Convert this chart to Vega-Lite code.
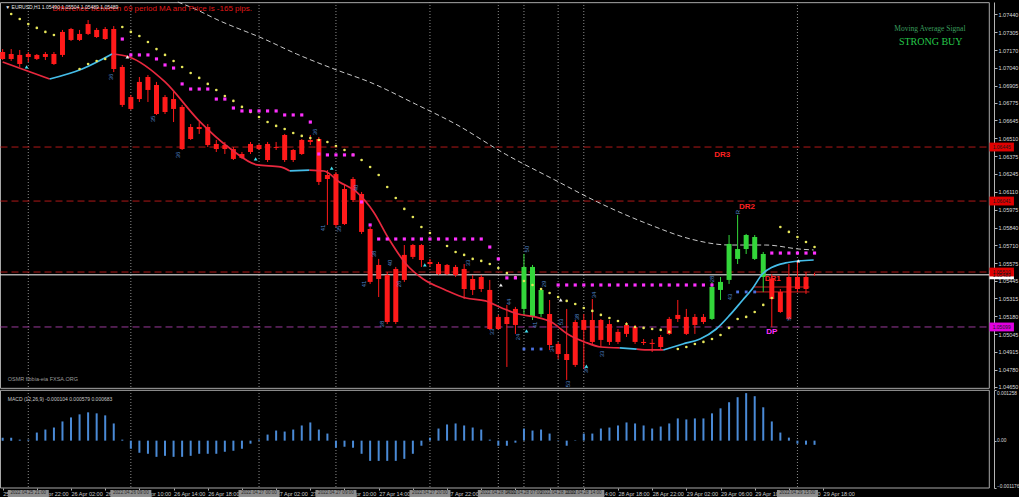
{
  "$schema": "https://vega.github.io/schema/vega-lite/v6.json",
  "background": "#000000",
  "padding": {"left": -5, "top": 0, "right": 0, "bottom": 0},
  "spacing": 1,
  "bounds": "flush",
  "config": {"view": {"stroke": null}, "font": "Liberation Sans"},
  "datasets": {
    "candles": [
      {"k":0,"o":1.07156,"h":1.07178,"l":1.07096,"c":1.07104,"trend":"bear"},
      {"k":1,"o":1.07104,"h":1.07178,"l":1.07089,"c":1.07141,"trend":"bear"},
      {"k":2,"o":1.07134,"h":1.07171,"l":1.07044,"c":1.07066,"trend":"bear"},
      {"k":3,"o":1.07119,"h":1.07156,"l":1.07081,"c":1.07141,"trend":"bear"},
      {"k":4,"o":1.07134,"h":1.07141,"l":1.07096,"c":1.07104,"trend":"bear"},
      {"k":5,"o":1.07119,"h":1.07156,"l":1.07096,"c":1.07141,"trend":"bear"},
      {"k":6,"o":1.07141,"h":1.07156,"l":1.07059,"c":1.07066,"trend":"bear"},
      {"k":7,"o":1.07134,"h":1.07321,"l":1.07119,"c":1.07306,"trend":"bear"},
      {"k":8,"o":1.07328,"h":1.07336,"l":1.07238,"c":1.07246,"trend":"bear"},
      {"k":9,"o":1.07246,"h":1.07321,"l":1.07238,"c":1.07291,"trend":"bear"},
      {"k":10,"o":1.07291,"h":1.07395,"l":1.07283,"c":1.07365,"trend":"bear"},
      {"k":11,"o":1.07321,"h":1.07336,"l":1.07261,"c":1.07268,"trend":"bear"},
      {"k":12,"o":1.07253,"h":1.07343,"l":1.07246,"c":1.07328,"trend":"bear"},
      {"k":13,"o":1.07328,"h":1.0735,"l":1.07006,"c":1.07029,"trend":"bear"},
      {"k":14,"o":1.07044,"h":1.07059,"l":1.06745,"c":1.0676,"trend":"bear"},
      {"k":15,"o":1.0673,"h":1.06834,"l":1.06722,"c":1.06819,"trend":"bear"},
      {"k":16,"o":1.06804,"h":1.06969,"l":1.06782,"c":1.06932,"trend":"bear"},
      {"k":17,"o":1.06969,"h":1.06984,"l":1.06782,"c":1.06872,"trend":"bear"},
      {"k":18,"o":1.06909,"h":1.06932,"l":1.06685,"c":1.06692,"trend":"bear"},
      {"k":19,"o":1.06707,"h":1.06834,"l":1.06692,"c":1.06819,"trend":"bear"},
      {"k":20,"o":1.06804,"h":1.06857,"l":1.06632,"c":1.0673,"trend":"bear"},
      {"k":21,"o":1.06745,"h":1.0676,"l":1.06423,"c":1.0643,"trend":"bear"},
      {"k":22,"o":1.06505,"h":1.06617,"l":1.06498,"c":1.06595,"trend":"bear"},
      {"k":23,"o":1.06595,"h":1.06632,"l":1.06543,"c":1.0658,"trend":"bear"},
      {"k":24,"o":1.06595,"h":1.06617,"l":1.06445,"c":1.0646,"trend":"bear"},
      {"k":25,"o":1.06468,"h":1.06498,"l":1.06408,"c":1.0643,"trend":"bear"},
      {"k":26,"o":1.0643,"h":1.06483,"l":1.06393,"c":1.0646,"trend":"bear"},
      {"k":27,"o":1.0643,"h":1.06445,"l":1.06348,"c":1.06356,"trend":"bear"},
      {"k":28,"o":1.06363,"h":1.06408,"l":1.06356,"c":1.06393,"trend":"bear"},
      {"k":29,"o":1.06408,"h":1.06483,"l":1.06393,"c":1.06468,"trend":"bear"},
      {"k":30,"o":1.0646,"h":1.06468,"l":1.06423,"c":1.0643,"trend":"bear"},
      {"k":31,"o":1.06468,"h":1.06483,"l":1.06333,"c":1.06348,"trend":"bear"},
      {"k":32,"o":1.06438,"h":1.06483,"l":1.06423,"c":1.06445,"trend":"bear"},
      {"k":33,"o":1.06348,"h":1.06543,"l":1.06333,"c":1.06535,"trend":"bear"},
      {"k":34,"o":1.06423,"h":1.0643,"l":1.06333,"c":1.06348,"trend":"bear"},
      {"k":35,"o":1.06393,"h":1.06505,"l":1.06386,"c":1.06498,"trend":"bear"},
      {"k":36,"o":1.06498,"h":1.06535,"l":1.0646,"c":1.06483,"trend":"bear"},
      {"k":37,"o":1.06505,"h":1.0652,"l":1.06161,"c":1.06184,"trend":"bear"},
      {"k":38,"o":1.06206,"h":1.06273,"l":1.05862,"c":1.06236,"trend":"bear"},
      {"k":39,"o":1.06243,"h":1.06258,"l":1.05847,"c":1.05862,"trend":"bear"},
      {"k":40,"o":1.05869,"h":1.06161,"l":1.05862,"c":1.06131,"trend":"bear"},
      {"k":41,"o":1.06206,"h":1.06221,"l":1.06034,"c":1.06049,"trend":"bear"},
      {"k":42,"o":1.06094,"h":1.06109,"l":1.05795,"c":1.0581,"trend":"bear"},
      {"k":43,"o":1.05832,"h":1.05847,"l":1.05421,"c":1.05436,"trend":"bear"},
      {"k":44,"o":1.05458,"h":1.05608,"l":1.05323,"c":1.05563,"trend":"bear"},
      {"k":45,"o":1.05488,"h":1.0551,"l":1.05121,"c":1.05136,"trend":"bear"},
      {"k":46,"o":1.05136,"h":1.05548,"l":1.05121,"c":1.05533,"trend":"bear"},
      {"k":47,"o":1.05451,"h":1.05712,"l":1.05436,"c":1.05638,"trend":"bear"},
      {"k":48,"o":1.05623,"h":1.0572,"l":1.05608,"c":1.05712,"trend":"bear"},
      {"k":49,"o":1.05712,"h":1.0572,"l":1.05548,"c":1.056,"trend":"bear"},
      {"k":50,"o":1.05585,"h":1.05608,"l":1.05548,"c":1.0557,"trend":"bear"},
      {"k":51,"o":1.0557,"h":1.05585,"l":1.05488,"c":1.05495,"trend":"bear"},
      {"k":52,"o":1.05495,"h":1.0557,"l":1.05488,"c":1.05563,"trend":"bear"},
      {"k":53,"o":1.05548,"h":1.05563,"l":1.05473,"c":1.05488,"trend":"bear"},
      {"k":54,"o":1.05533,"h":1.0557,"l":1.05308,"c":1.05383,"trend":"bear"},
      {"k":55,"o":1.05376,"h":1.05488,"l":1.05338,"c":1.05458,"trend":"bear"},
      {"k":56,"o":1.05473,"h":1.05488,"l":1.05361,"c":1.05383,"trend":"bear"},
      {"k":57,"o":1.05376,"h":1.05451,"l":1.05077,"c":1.05084,"trend":"bear"},
      {"k":58,"o":1.05084,"h":1.05189,"l":1.05077,"c":1.05174,"trend":"bear"},
      {"k":59,"o":1.05174,"h":1.05264,"l":1.048,"c":1.05121,"trend":"bear"},
      {"k":60,"o":1.05114,"h":1.05249,"l":1.05047,"c":1.05234,"trend":"bear"},
      {"k":61,"o":1.05234,"h":1.05645,"l":1.05189,"c":1.05548,"trend":"bull"},
      {"k":62,"o":1.05548,"h":1.05563,"l":1.05151,"c":1.05174,"trend":"bull"},
      {"k":63,"o":1.05196,"h":1.05383,"l":1.05174,"c":1.05376,"trend":"bull"},
      {"k":64,"o":1.05196,"h":1.05301,"l":1.04927,"c":1.04964,"trend":"bear"},
      {"k":65,"o":1.04972,"h":1.04987,"l":1.0486,"c":1.04897,"trend":"bear"},
      {"k":66,"o":1.04897,"h":1.05234,"l":1.04703,"c":1.04852,"trend":"bear"},
      {"k":67,"o":1.04815,"h":1.05151,"l":1.048,"c":1.05136,"trend":"bear"},
      {"k":68,"o":1.05151,"h":1.05196,"l":1.04785,"c":1.05077,"trend":"bear"},
      {"k":69,"o":1.05151,"h":1.05308,"l":1.04972,"c":1.04987,"trend":"bear"},
      {"k":70,"o":1.05002,"h":1.05159,"l":1.04949,"c":1.05151,"trend":"bear"},
      {"k":71,"o":1.05121,"h":1.05151,"l":1.04964,"c":1.04987,"trend":"bear"},
      {"k":72,"o":1.04987,"h":1.05084,"l":1.04972,"c":1.05062,"trend":"bear"},
      {"k":73,"o":1.05047,"h":1.05136,"l":1.05024,"c":1.05114,"trend":"bear"},
      {"k":74,"o":1.05099,"h":1.05114,"l":1.04972,"c":1.04987,"trend":"bear"},
      {"k":75,"o":1.04987,"h":1.05009,"l":1.04964,"c":1.04979,"trend":"bear"},
      {"k":76,"o":1.0498,"h":1.05009,"l":1.04912,"c":1.04972,"trend":"bear"},
      {"k":77,"o":1.04949,"h":1.05039,"l":1.04934,"c":1.05024,"trend":"bear"},
      {"k":78,"o":1.05047,"h":1.05174,"l":1.05039,"c":1.05159,"trend":"bear"},
      {"k":79,"o":1.05159,"h":1.05301,"l":1.05136,"c":1.05189,"trend":"bear"},
      {"k":80,"o":1.05174,"h":1.05234,"l":1.05039,"c":1.05047,"trend":"bear"},
      {"k":81,"o":1.05114,"h":1.05196,"l":1.05047,"c":1.05174,"trend":"bear"},
      {"k":82,"o":1.05174,"h":1.05196,"l":1.05121,"c":1.05136,"trend":"bear"},
      {"k":83,"o":1.05159,"h":1.05436,"l":1.05151,"c":1.05398,"trend":"bull"},
      {"k":84,"o":1.05376,"h":1.05473,"l":1.05301,"c":1.05436,"trend":"bull"},
      {"k":85,"o":1.05451,"h":1.05787,"l":1.05421,"c":1.0572,"trend":"bull"},
      {"k":86,"o":1.05608,"h":1.05937,"l":1.0557,"c":1.05682,"trend":"bull"},
      {"k":87,"o":1.05682,"h":1.05795,"l":1.05645,"c":1.05787,"trend":"bull"},
      {"k":88,"o":1.05772,"h":1.05787,"l":1.056,"c":1.05608,"trend":"bull"},
      {"k":89,"o":1.05645,"h":1.0566,"l":1.05361,"c":1.05473,"trend":"bull"},
      {"k":90,"o":1.05458,"h":1.05495,"l":1.05099,"c":1.05308,"trend":"bear"},
      {"k":91,"o":1.05211,"h":1.05383,"l":1.05204,"c":1.05361,"trend":"bear"},
      {"k":92,"o":1.05159,"h":1.0557,"l":1.05151,"c":1.05473,"trend":"bear"},
      {"k":93,"o":1.05473,"h":1.056,"l":1.05361,"c":1.05383,"trend":"bear"},
      {"k":94,"o":1.05383,"h":1.0551,"l":1.05346,"c":1.05473,"trend":"bear"},
      {"k":95,"o":1.0549,"h":1.05504,"l":1.05482,"c":1.05489,"trend":"bear"}
    ],
    "macd": [
      {"k":0,"macd":0.000075},{"k":1,"macd":0.000075},{"k":2,"macd":0.000025},{"k":3,"macd":0.000025},
      {"k":4,"macd":0.000201},{"k":5,"macd":0.000276},{"k":6,"macd":0.000326},{"k":7,"macd":0.000477},
      {"k":8,"macd":0.000577},{"k":9,"macd":0.000653},{"k":10,"macd":0.000703},{"k":11,"macd":0.000678},
      {"k":12,"macd":0.000628},{"k":13,"macd":0.000427},{"k":14,"macd":0.000025},{"k":15,"macd":-0.000201},
      {"k":16,"macd":-0.000301},{"k":17,"macd":-0.000326},{"k":18,"macd":-0.000402},{"k":19,"macd":-0.000377},
      {"k":20,"macd":-0.000402},{"k":21,"macd":-0.000402},{"k":22,"macd":-0.000377},{"k":23,"macd":-0.000326},
      {"k":24,"macd":-0.000326},{"k":25,"macd":-0.000326},{"k":26,"macd":-0.000276},{"k":27,"macd":-0.000251},
      {"k":28,"macd":-0.000201},{"k":29,"macd":-0.000075},{"k":30,"macd":0.000025},{"k":31,"macd":0.000151},
      {"k":32,"macd":0.000251},{"k":33,"macd":0.000226},{"k":34,"macd":0.000276},{"k":35,"macd":0.000377},
      {"k":36,"macd":0.000452},{"k":37,"macd":0.000276},{"k":38,"macd":0.000176},{"k":39,"macd":-0.000176},
      {"k":40,"macd":-0.000151},{"k":41,"macd":-0.000176},{"k":42,"macd":-0.000326},{"k":43,"macd":-0.000502},
      {"k":44,"macd":-0.000502},{"k":45,"macd":-0.000502},{"k":46,"macd":-0.000502},{"k":47,"macd":-0.000452},
      {"k":48,"macd":-0.000326},{"k":49,"macd":-0.000126},{"k":50,"macd":0.000075},{"k":51,"macd":0.000301},
      {"k":52,"macd":0.000402},{"k":53,"macd":0.000427},{"k":54,"macd":0.000377},{"k":55,"macd":0.000326},
      {"k":56,"macd":0.000276},{"k":57,"macd":0.000025},{"k":58,"macd":-0.000126},{"k":59,"macd":-0.000126},
      {"k":60,"macd":-0.00005},{"k":61,"macd":0.000301},{"k":62,"macd":0.000251},{"k":63,"macd":0.000276},
      {"k":64,"macd":0.000176},{"k":65,"macd":0.00001},{"k":66,"macd":-0.000126},{"k":67,"macd":0.00001},
      {"k":68,"macd":0.000176},{"k":69,"macd":0.000176},{"k":70,"macd":0.000301},{"k":71,"macd":0.000326},
      {"k":72,"macd":0.000377},{"k":73,"macd":0.000452},{"k":74,"macd":0.000427},{"k":75,"macd":0.000377},
      {"k":76,"macd":0.000301},{"k":77,"macd":0.000351},{"k":78,"macd":0.000427},{"k":79,"macd":0.000552},
      {"k":80,"macd":0.000527},{"k":81,"macd":0.000552},{"k":82,"macd":0.000552},{"k":83,"macd":0.000678},
      {"k":84,"macd":0.000803},{"k":85,"macd":0.000954},{"k":86,"macd":0.001079},{"k":87,"macd":0.00118},
      {"k":88,"macd":0.001104},{"k":89,"macd":0.000828},{"k":90,"macd":0.000477},{"k":91,"macd":0.000201},
      {"k":92,"macd":0.000075},{"k":93,"macd":-0.000075},{"k":94,"macd":-0.0001},{"k":95,"macd":-0.000104}
    ],
    "ma": [
      {"k":0,"ma":1.07081,"seg":1,"dir":"down"},{"k":5.5,"ma":1.06954,"seg":1,"dir":"down"},
      {"k":5.5,"ma":1.06954,"seg":2,"dir":"up"},{"k":9.3,"ma":1.07029,"seg":2,"dir":"up"},{"k":12.8,"ma":1.07141,"seg":2,"dir":"up"},
      {"k":12.8,"ma":1.07141,"seg":3,"dir":"down"},{"k":14.8,"ma":1.07119,"seg":3,"dir":"down"},{"k":19,"ma":1.06932,"seg":3,"dir":"down"},
      {"k":22.9,"ma":1.06647,"seg":3,"dir":"down"},{"k":26.7,"ma":1.0643,"seg":3,"dir":"down"},{"k":29.8,"ma":1.06311,"seg":3,"dir":"down"},
      {"k":32.5,"ma":1.06296,"seg":3,"dir":"down"},{"k":33.6,"ma":1.06266,"seg":3,"dir":"down"},
      {"k":33.6,"ma":1.06266,"seg":4,"dir":"up"},{"k":35.9,"ma":1.06273,"seg":4,"dir":"up"},
      {"k":35.9,"ma":1.06273,"seg":5,"dir":"down"},{"k":37.6,"ma":1.06266,"seg":5,"dir":"down"},{"k":39.4,"ma":1.06184,"seg":5,"dir":"down"},
      {"k":41.4,"ma":1.06109,"seg":5,"dir":"down"},{"k":43.4,"ma":1.05959,"seg":5,"dir":"down"},{"k":45.2,"ma":1.05757,"seg":5,"dir":"down"},
      {"k":47.2,"ma":1.0557,"seg":5,"dir":"down"},{"k":49.2,"ma":1.05458,"seg":5,"dir":"down"},{"k":51.8,"ma":1.05376,"seg":5,"dir":"down"},
      {"k":54.2,"ma":1.05316,"seg":5,"dir":"down"},{"k":56.5,"ma":1.05294,"seg":5,"dir":"down"},{"k":58.4,"ma":1.05241,"seg":5,"dir":"down"},
      {"k":60.3,"ma":1.05196,"seg":5,"dir":"down"},{"k":62.3,"ma":1.05174,"seg":5,"dir":"down"},{"k":64.2,"ma":1.05136,"seg":5,"dir":"down"},
      {"k":66.1,"ma":1.05047,"seg":5,"dir":"down"},{"k":68.1,"ma":1.04987,"seg":5,"dir":"down"},{"k":70,"ma":1.04949,"seg":5,"dir":"down"},
      {"k":72.2,"ma":1.04942,"seg":5,"dir":"down"},
      {"k":72.2,"ma":1.04942,"seg":6,"dir":"up"},{"k":74.2,"ma":1.04934,"seg":6,"dir":"up"},
      {"k":74.2,"ma":1.04934,"seg":7,"dir":"down"},{"k":75.8,"ma":1.04927,"seg":7,"dir":"down"},{"k":77.3,"ma":1.04927,"seg":7,"dir":"down"},
      {"k":77.3,"ma":1.04927,"seg":8,"dir":"up"},{"k":79.6,"ma":1.04972,"seg":8,"dir":"up"},{"k":81.6,"ma":1.05009,"seg":8,"dir":"up"},
      {"k":83.5,"ma":1.05084,"seg":8,"dir":"up"},{"k":85.1,"ma":1.05189,"seg":8,"dir":"up"},{"k":86.6,"ma":1.05301,"seg":8,"dir":"up"},
      {"k":87.7,"ma":1.05383,"seg":8,"dir":"up"},{"k":88.9,"ma":1.05495,"seg":8,"dir":"up"},{"k":90.1,"ma":1.05548,"seg":8,"dir":"up"},
      {"k":91.6,"ma":1.05578,"seg":8,"dir":"up"},{"k":93.2,"ma":1.05593,"seg":8,"dir":"up"},{"k":94.9,"ma":1.056,"seg":8,"dir":"up"}
    ],
    "slowma": [
      {"k":20.5,"ma":1.0753},{"k":22.5,"ma":1.07478},{"k":25.2,"ma":1.07395},{"k":30.6,"ma":1.07253},{"k":34.4,"ma":1.07141},
      {"k":39.1,"ma":1.07021},{"k":42.9,"ma":1.06932},{"k":48.3,"ma":1.06767},{"k":53,"ma":1.06617},{"k":58.8,"ma":1.06393},
      {"k":64.6,"ma":1.06199},{"k":69.6,"ma":1.06034},{"k":75.8,"ma":1.05862},{"k":80.5,"ma":1.05757},{"k":85.1,"ma":1.05712},
      {"k":89.3,"ma":1.05712},{"k":93.2,"ma":1.05682},{"k":94.9,"ma":1.05675}
    ],
    "sar": [
      {"k":1,"sar":1.0744},{"k":2,"sar":1.07403},{"k":3,"sar":1.07365},{"k":4,"sar":1.07336},{"k":5,"sar":1.07306},{"k":6,"sar":1.07283},
      {"k":9,"sar":1.07029},{"k":10,"sar":1.07066},{"k":11,"sar":1.07089},{"k":12,"sar":1.07104},
      {"k":14,"sar":1.07343},{"k":15,"sar":1.07306},{"k":16,"sar":1.07276},{"k":17,"sar":1.07231},{"k":18,"sar":1.07178},
      {"k":19,"sar":1.07134},{"k":20,"sar":1.07089},{"k":21,"sar":1.07044},{"k":22,"sar":1.06999},{"k":23,"sar":1.06962},
      {"k":24,"sar":1.06917},{"k":25,"sar":1.06872},{"k":26,"sar":1.06827},{"k":27,"sar":1.0679},{"k":28,"sar":1.06745},
      {"k":29,"sar":1.06707},{"k":30,"sar":1.0667},{"k":31,"sar":1.06632},{"k":32,"sar":1.06603},{"k":33,"sar":1.0658},
      {"k":34,"sar":1.0655},{"k":35,"sar":1.06528},{"k":36,"sar":1.06513},{"k":37,"sar":1.06498},{"k":38,"sar":1.06483},
      {"k":39,"sar":1.06453},{"k":40,"sar":1.06423},{"k":41,"sar":1.06386},{"k":42,"sar":1.06348},{"k":43,"sar":1.06296},
      {"k":44,"sar":1.06236},{"k":45,"sar":1.06146},{"k":46,"sar":1.06064},{"k":47,"sar":1.05982},{"k":48,"sar":1.05922},
      {"k":49,"sar":1.05847},{"k":50,"sar":1.05802},{"k":51,"sar":1.05757},{"k":52,"sar":1.05705},{"k":53,"sar":1.0566},
      {"k":54,"sar":1.05638},{"k":55,"sar":1.05608},{"k":56,"sar":1.05593},{"k":57,"sar":1.0557},{"k":58,"sar":1.0554},
      {"k":59,"sar":1.05503},{"k":60,"sar":1.05473},{"k":61,"sar":1.05443},{"k":62,"sar":1.05413},{"k":63,"sar":1.05383},
      {"k":64,"sar":1.05353},{"k":65,"sar":1.05323},{"k":66,"sar":1.05294},{"k":67,"sar":1.05271},{"k":68,"sar":1.05241},
      {"k":69,"sar":1.05219},{"k":70,"sar":1.05189},{"k":71,"sar":1.05166},{"k":72,"sar":1.05144},{"k":73,"sar":1.05121},
      {"k":74,"sar":1.05099},{"k":75,"sar":1.05092},{"k":76,"sar":1.05084},{"k":77,"sar":1.05077},{"k":78,"sar":1.05062},
      {"k":79,"sar":1.04934},{"k":80,"sar":1.04949},{"k":81,"sar":1.04972},{"k":82,"sar":1.04987},{"k":83,"sar":1.05009},
      {"k":84,"sar":1.05039},{"k":85,"sar":1.05092},{"k":86,"sar":1.05159},{"k":87,"sar":1.05174},{"k":88,"sar":1.05211},
      {"k":89,"sar":1.05264},{"k":90,"sar":1.05316},{"k":91,"sar":1.05847},{"k":92,"sar":1.0581},{"k":93,"sar":1.05772},
      {"k":94,"sar":1.05735},{"k":95,"sar":1.05697}
    ],
    "stops": [
      {"k":14,"stop":1.07253},{"k":15,"stop":1.07134},{"k":16,"stop":1.07134},{"k":17,"stop":1.07134},{"k":18,"stop":1.07104},
      {"k":19,"stop":1.07059},{"k":20,"stop":1.07036},{"k":21,"stop":1.06917},{"k":22,"stop":1.06879},{"k":23,"stop":1.06879},
      {"k":24,"stop":1.06879},{"k":25,"stop":1.06804},{"k":26,"stop":1.06804},{"k":27,"stop":1.06737},{"k":28,"stop":1.06715},
      {"k":29,"stop":1.06715},{"k":30,"stop":1.06715},{"k":31,"stop":1.06715},{"k":32,"stop":1.06715},{"k":33,"stop":1.06685},
      {"k":34,"stop":1.06685},{"k":35,"stop":1.06685},{"k":36,"stop":1.06632},{"k":37,"stop":1.06393},{"k":38,"stop":1.06386},
      {"k":39,"stop":1.06386},{"k":40,"stop":1.06386},{"k":41,"stop":1.06386},{"k":42,"stop":1.06034},{"k":43,"stop":1.05862},
      {"k":44,"stop":1.05757},{"k":45,"stop":1.05757},{"k":46,"stop":1.05757},{"k":47,"stop":1.05757},{"k":48,"stop":1.05757},
      {"k":49,"stop":1.05757},{"k":50,"stop":1.05757},{"k":51,"stop":1.05757},{"k":52,"stop":1.05757},{"k":53,"stop":1.05757},
      {"k":54,"stop":1.05757},{"k":55,"stop":1.05757},{"k":56,"stop":1.05757},{"k":57,"stop":1.05697},{"k":58,"stop":1.05608},
      {"k":59,"stop":1.05466},{"k":60,"stop":1.05466},
      {"k":65,"stop":1.05413},{"k":66,"stop":1.05413},{"k":67,"stop":1.05413},{"k":68,"stop":1.05413},{"k":69,"stop":1.05413},
      {"k":70,"stop":1.05413},{"k":71,"stop":1.05413},{"k":72,"stop":1.05413},{"k":73,"stop":1.05413},{"k":74,"stop":1.05413},
      {"k":75,"stop":1.05413},{"k":76,"stop":1.05413},{"k":77,"stop":1.05413},{"k":78,"stop":1.05413},{"k":79,"stop":1.05413},
      {"k":80,"stop":1.05413},{"k":81,"stop":1.05413},{"k":82,"stop":1.05413},{"k":83,"stop":1.05413},
      {"k":90,"stop":1.05652},{"k":91,"stop":1.05652},{"k":92,"stop":1.05652},{"k":93,"stop":1.05652},{"k":94,"stop":1.05652},{"k":95,"stop":1.05652}
    ],
    "bluestops": [
      {"k":61,"stop":1.04934},{"k":62,"stop":1.04934},{"k":63,"stop":1.04934},
      {"k":86,"stop":1.05361},{"k":87,"stop":1.05361},{"k":88,"stop":1.05361}
    ],
    "counts": [
      {"k":12.7,"p":1.06969,"t":"36"},{"k":17.6,"p":1.06655,"t":"35"},{"k":20.5,"p":1.06386,"t":"36"},{"k":36.5,"p":1.06558,"t":"36"},
      {"k":37.5,"p":1.0584,"t":"41"},{"k":39.4,"p":1.05832,"t":"35"},{"k":41.4,"p":1.06139,"t":"40"},{"k":42.3,"p":1.05421,"t":"41"},
      {"k":43.5,"p":1.05645,"t":"38"},{"k":45.3,"p":1.05578,"t":"40"},{"k":44.4,"p":1.05121,"t":"38"},{"k":46.4,"p":1.05421,"t":"26"},
      {"k":54.4,"p":1.05578,"t":"33"},{"k":57.3,"p":1.05062,"t":"33"},{"k":59.2,"p":1.05286,"t":"44"},{"k":60.3,"p":1.05024,"t":"24"},
      {"k":61.3,"p":1.05682,"t":"50"},{"k":62.3,"p":1.05114,"t":"41"},{"k":63.3,"p":1.05421,"t":"29"},{"k":64.3,"p":1.04934,"t":"34"},
      {"k":65.3,"p":1.05136,"t":"53"},{"k":66.2,"p":1.04673,"t":"53"},{"k":67.2,"p":1.05174,"t":"38"},{"k":68.3,"p":1.04777,"t":"38"},
      {"k":69.2,"p":1.05338,"t":"34"},{"k":70.1,"p":1.04897,"t":"33"},{"k":83,"p":1.05458,"t":"28"},{"k":85.1,"p":1.05323,"t":"43"},
      {"k":86,"p":1.05959,"t":"R"},{"k":92,"p":1.05159,"t":"S"}
    ],
    "arrows": [
      {"k":2.8,"p":1.07044,"kind":"cyan"},{"k":29.6,"p":1.06356,"kind":"cyan"},{"k":38.5,"p":1.06288,"kind":"cyan"},
      {"k":49.4,"p":1.05563,"kind":"cyan"},{"k":61.3,"p":1.05069,"kind":"cyan"},{"k":68.3,"p":1.04807,"kind":"cyan"},
      {"k":14.6,"p":1.07119,"kind":"white"},{"k":58.3,"p":1.05413,"kind":"white"},{"k":65.3,"p":1.05301,"kind":"white"},{"k":93.1,"p":1.05593,"kind":"white"}
    ],
    "vlines": [
      {"k":3,"stamp":"2022.04.25 21:00"},{"k":15,"stamp":"2022.04.26 09:00"},{"k":30,"stamp":"2022.04.27 00:00"},
      {"k":39,"stamp":"2022.04.27 09:00"},{"k":50,"stamp":"2022.04.27 20:00"},{"k":58,"stamp":"2022.04.28 04:00"},
      {"k":61,"stamp":"2022.04.28 07:00"},{"k":65,"stamp":"2022.04.28 11:00"},{"k":68,"stamp":"2022.04.28 14:00"},
      {"k":93,"stamp":"2022.04.29 15:00"}
    ],
    "pricetags": [
      {"p":1.06445,"t":"1.06445","kind":"dr"},{"p":1.06041,"t":"1.06041","kind":"dr"},
      {"p":1.05489,"t":"1.05489","kind":"bid"},{"p":1.0551,"t":"1.05510","kind":"dr"},
      {"p":1.05099,"t":"1.05099","kind":"dp"}
    ]
  },
  "vconcat": [
    {
      "width": 1024,
      "height": 387,
      "resolve": {"scale": {"color": "independent"}, "axis": {"x": "independent", "y": "independent"}},
      "layer": [
        {"data": {"name": "candles"}, "mark": {"type": "rule", "opacity": 0},
         "encoding": {
           "x": {"field": "k", "type": "quantitative", "scale": {"domain": [-0.31, 118.34], "nice": false, "zero": false}, "axis": null},
           "y": {"field": "l", "type": "quantitative", "scale": {"domain": [1.04635, 1.0753], "nice": false, "zero": false},
                 "axis": {"orient": "right", "offset": -25, "title": null, "grid": false,
                          "values": [1.0744, 1.07305, 1.0717, 1.0704, 1.06905, 1.06775, 1.06645, 1.0651, 1.06375, 1.06245, 1.0611, 1.05975, 1.0584, 1.0571, 1.05575, 1.05445, 1.05315, 1.0518, 1.05045, 1.04915, 1.0478, 1.0465],
                          "format": ".5f", "domainColor": "#b4b4b4", "tickColor": "#b4b4b4", "tickSize": 3,
                          "labelColor": "#dcdcdc", "labelFontSize": 5.5, "labelPadding": 1, "labelAlign": "left", "labelBaseline": "middle",
                          "labelOverlap": false, "labelBound": false, "labelFlush": false, "labelSeparation": 0}},
           "y2": {"field": "h"}}},
        {"data": {"name": "vlines"}, "mark": {"type": "rule", "color": "#8c8c8c", "strokeDash": [1, 2], "strokeWidth": 1},
         "encoding": {"x": {"field": "k", "type": "quantitative", "scale": {"domain": [-0.31, 118.34], "nice": false, "zero": false}, "axis": null}}},
        {"data": {"values": [{}]}, "mark": {"type": "rect", "fill": "transparent", "stroke": "#a8a8a8", "strokeWidth": 1},
         "encoding": {"x": {"datum": -0.25, "type": "quantitative", "scale": {"domain": [-0.31, 118.34], "nice": false, "zero": false}, "axis": null}, "x2": {"datum": 115.45},
                      "y": {"datum": 1.07525, "type": "quantitative", "scale": {"domain": [1.04635, 1.0753], "nice": false, "zero": false}, "axis": null},
                      "y2": {"datum": 1.0464}}},
        {"data": {"values": [{"p": 1.06445}, {"p": 1.06041}, {"p": 1.0551}]}, "mark": {"type": "rule", "color": "#b01818", "strokeDash": [7, 4], "strokeWidth": 1},
         "encoding": {"x": {"datum": -0.25, "type": "quantitative", "scale": {"domain": [-0.31, 118.34], "nice": false, "zero": false}, "axis": null}, "x2": {"datum": 115.45},
                      "y": {"field": "p", "type": "quantitative", "scale": {"domain": [1.04635, 1.0753], "nice": false, "zero": false}, "axis": null}}},
        {"data": {"values": [{"p": 1.05099}]}, "mark": {"type": "rule", "color": "#9a3a9a", "strokeDash": [7, 4], "strokeWidth": 1},
         "encoding": {"x": {"datum": -0.25, "type": "quantitative", "scale": {"domain": [-0.31, 118.34], "nice": false, "zero": false}, "axis": null}, "x2": {"datum": 115.45},
                      "y": {"field": "p", "type": "quantitative", "scale": {"domain": [1.04635, 1.0753], "nice": false, "zero": false}, "axis": null}}},
        {"data": {"values": [{"p": 1.05489}]}, "mark": {"type": "rule", "color": "#ffffff", "strokeWidth": 1},
         "encoding": {"x": {"datum": -0.25, "type": "quantitative", "scale": {"domain": [-0.31, 118.34], "nice": false, "zero": false}, "axis": null}, "x2": {"datum": 115.45},
                      "y": {"field": "p", "type": "quantitative", "scale": {"domain": [1.04635, 1.0753], "nice": false, "zero": false}, "axis": null}}},
        {"data": {"values": [{"p": 1.05398}, {"p": 1.05361}]}, "mark": {"type": "rule", "color": "#d02020", "strokeWidth": 1},
         "encoding": {"x": {"datum": 87.9, "type": "quantitative", "scale": {"domain": [-0.31, 118.34], "nice": false, "zero": false}, "axis": null}, "x2": {"datum": 94.4},
                      "y": {"field": "p", "type": "quantitative", "scale": {"domain": [1.04635, 1.0753], "nice": false, "zero": false}, "axis": null}}},
        {"data": {"name": "slowma"}, "mark": {"type": "line", "color": "#c8c8c8", "strokeDash": [5, 3], "strokeWidth": 1, "interpolate": "monotone"},
         "encoding": {"x": {"field": "k", "type": "quantitative", "scale": {"domain": [-0.31, 118.34], "nice": false, "zero": false}, "axis": null},
                      "y": {"field": "ma", "type": "quantitative", "scale": {"domain": [1.04635, 1.0753], "nice": false, "zero": false}, "axis": null}}},
        {"data": {"name": "candles"}, "mark": {"type": "rule", "strokeWidth": 1},
         "encoding": {
           "x": {"field": "k", "type": "quantitative", "scale": {"domain": [-0.31, 118.34], "nice": false, "zero": false}, "axis": null},
           "y": {"field": "l", "type": "quantitative", "scale": {"domain": [1.04635, 1.0753], "nice": false, "zero": false}, "axis": null},
           "y2": {"field": "h"},
           "color": {"field": "trend", "type": "nominal", "scale": {"domain": ["bear", "bull"], "range": ["#ff1a1a", "#33d63a"]}, "legend": null}}},
        {"data": {"name": "candles"}, "mark": {"type": "bar", "size": 5},
         "encoding": {
           "x": {"field": "k", "type": "quantitative", "scale": {"domain": [-0.31, 118.34], "nice": false, "zero": false}, "axis": null},
           "y": {"field": "o", "type": "quantitative", "scale": {"domain": [1.04635, 1.0753], "nice": false, "zero": false}, "axis": null},
           "y2": {"field": "c"},
           "color": {"field": "trend", "type": "nominal", "scale": {"domain": ["bear", "bull"], "range": ["#ff1a1a", "#33d63a"]}, "legend": null}}},
        {"data": {"name": "ma"}, "mark": {"type": "line", "strokeWidth": 1.7, "interpolate": "monotone"},
         "encoding": {
           "x": {"field": "k", "type": "quantitative", "scale": {"domain": [-0.31, 118.34], "nice": false, "zero": false}, "axis": null},
           "y": {"field": "ma", "type": "quantitative", "scale": {"domain": [1.04635, 1.0753], "nice": false, "zero": false}, "axis": null},
           "detail": {"field": "seg", "type": "nominal"},
           "color": {"field": "dir", "type": "nominal", "scale": {"domain": ["down", "up"], "range": ["#e8283e", "#45bde8"]}, "legend": null}}},
        {"data": {"name": "sar"}, "mark": {"type": "circle", "color": "#e6e65a", "size": 7, "opacity": 1},
         "encoding": {"x": {"field": "k", "type": "quantitative", "scale": {"domain": [-0.31, 118.34], "nice": false, "zero": false}, "axis": null},
                      "y": {"field": "sar", "type": "quantitative", "scale": {"domain": [1.04635, 1.0753], "nice": false, "zero": false}, "axis": null}}},
        {"data": {"name": "stops"}, "mark": {"type": "square", "color": "#ff30ff", "size": 10, "opacity": 1},
         "encoding": {"x": {"field": "k", "type": "quantitative", "scale": {"domain": [-0.31, 118.34], "nice": false, "zero": false}, "axis": null},
                      "y": {"field": "stop", "type": "quantitative", "scale": {"domain": [1.04635, 1.0753], "nice": false, "zero": false}, "axis": null}}},
        {"data": {"name": "bluestops"}, "mark": {"type": "square", "color": "#4a70e0", "size": 8, "opacity": 1},
         "encoding": {"x": {"field": "k", "type": "quantitative", "scale": {"domain": [-0.31, 118.34], "nice": false, "zero": false}, "axis": null},
                      "y": {"field": "stop", "type": "quantitative", "scale": {"domain": [1.04635, 1.0753], "nice": false, "zero": false}, "axis": null}}},
        {"data": {"name": "counts"}, "mark": {"type": "text", "color": "#4f80c4", "fontSize": 6, "angle": 270, "align": "center", "baseline": "middle"},
         "encoding": {"x": {"field": "k", "type": "quantitative", "scale": {"domain": [-0.31, 118.34], "nice": false, "zero": false}, "axis": null},
                      "y": {"field": "p", "type": "quantitative", "scale": {"domain": [1.04635, 1.0753], "nice": false, "zero": false}, "axis": null},
                      "text": {"field": "t"}}},
        {"data": {"name": "arrows"}, "mark": {"type": "point", "shape": "triangle-up", "filled": true, "size": 14, "opacity": 1},
         "encoding": {"x": {"field": "k", "type": "quantitative", "scale": {"domain": [-0.31, 118.34], "nice": false, "zero": false}, "axis": null},
                      "y": {"field": "p", "type": "quantitative", "scale": {"domain": [1.04635, 1.0753], "nice": false, "zero": false}, "axis": null},
                      "color": {"field": "kind", "type": "nominal", "scale": {"domain": ["cyan", "white"], "range": ["#40e0f0", "#f0f0f0"]}, "legend": null}}},
        {"data": {"values": [{"k": 84.2, "p": 1.06386, "t": "DR3"}, {"k": 87.1, "p": 1.05997, "t": "DR2"}, {"k": 90.1, "p": 1.05458, "t": "DR1"}]},
         "mark": {"type": "text", "color": "#ff2020", "fontSize": 8, "fontWeight": "bold", "align": "center", "baseline": "middle"},
         "encoding": {"x": {"field": "k", "type": "quantitative", "scale": {"domain": [-0.31, 118.34], "nice": false, "zero": false}, "axis": null},
                      "y": {"field": "p", "type": "quantitative", "scale": {"domain": [1.04635, 1.0753], "nice": false, "zero": false}, "axis": null},
                      "text": {"field": "t"}}},
        {"data": {"values": [{"k": 90, "p": 1.05062, "t": "DP"}]},
         "mark": {"type": "text", "color": "#ff30ff", "fontSize": 8, "fontWeight": "bold", "align": "center", "baseline": "middle"},
         "encoding": {"x": {"field": "k", "type": "quantitative", "scale": {"domain": [-0.31, 118.34], "nice": false, "zero": false}, "axis": null},
                      "y": {"field": "p", "type": "quantitative", "scale": {"domain": [1.04635, 1.0753], "nice": false, "zero": false}, "axis": null},
                      "text": {"field": "t"}}},
        {"data": {"values": [{"t": "Difference between 69 period MA and Price is -165 pips."}]},
         "mark": {"type": "text", "color": "#e01818", "fontSize": 8, "align": "left", "baseline": "middle"},
         "encoding": {"x": {"datum": 5.83, "type": "quantitative", "scale": {"domain": [-0.31, 118.34], "nice": false, "zero": false}, "axis": null},
                      "y": {"datum": 1.07478, "type": "quantitative", "scale": {"domain": [1.04635, 1.0753], "nice": false, "zero": false}, "axis": null},
                      "text": {"field": "t"}}},
        {"data": {"values": [{"t": "▼ EURUSD,H1  1.05490 1.05504 1.05489 1.05489"}]},
         "mark": {"type": "text", "color": "#e8e8e8", "fontSize": 5, "align": "left", "baseline": "middle"},
         "encoding": {"x": {"datum": 0.3, "type": "quantitative", "scale": {"domain": [-0.31, 118.34], "nice": false, "zero": false}, "axis": null},
                      "y": {"datum": 1.07493, "type": "quantitative", "scale": {"domain": [1.04635, 1.0753], "nice": false, "zero": false}, "axis": null},
                      "text": {"field": "t"}}},
        {"data": {"values": [{"t": "Moving Average Signal"}]},
         "mark": {"type": "text", "color": "#3a9d5d", "fontSize": 7.5, "font": "Liberation Serif", "align": "center", "baseline": "middle"},
         "encoding": {"x": {"datum": 108.5, "type": "quantitative", "scale": {"domain": [-0.31, 118.34], "nice": false, "zero": false}, "axis": null},
                      "y": {"datum": 1.07328, "type": "quantitative", "scale": {"domain": [1.04635, 1.0753], "nice": false, "zero": false}, "axis": null},
                      "text": {"field": "t"}}},
        {"data": {"values": [{"t": "STRONG BUY"}]},
         "mark": {"type": "text", "color": "#25c84a", "fontSize": 10, "font": "Liberation Serif", "align": "center", "baseline": "middle"},
         "encoding": {"x": {"datum": 108.6, "type": "quantitative", "scale": {"domain": [-0.31, 118.34], "nice": false, "zero": false}, "axis": null},
                      "y": {"datum": 1.07231, "type": "quantitative", "scale": {"domain": [1.04635, 1.0753], "nice": false, "zero": false}, "axis": null},
                      "text": {"field": "t"}}},
        {"data": {"values": [{"t": "OSMR fibbia-eia FXSA.ORG"}]},
         "mark": {"type": "text", "color": "#9a9a9a", "fontSize": 5.5, "align": "left", "baseline": "middle"},
         "encoding": {"x": {"datum": 0.6, "type": "quantitative", "scale": {"domain": [-0.31, 118.34], "nice": false, "zero": false}, "axis": null},
                      "y": {"datum": 1.0471, "type": "quantitative", "scale": {"domain": [1.04635, 1.0753], "nice": false, "zero": false}, "axis": null},
                      "text": {"field": "t"}}},
        {"data": {"name": "pricetags"}, "mark": {"type": "point", "shape": "M-1,-0.36L1,-0.36L1,0.36L-1,0.36Z", "size": 600, "filled": true, "opacity": 1},
         "encoding": {"x": {"datum": 116.9, "type": "quantitative", "scale": {"domain": [-0.31, 118.34], "nice": false, "zero": false}, "axis": null},
                      "y": {"field": "p", "type": "quantitative", "scale": {"domain": [1.04635, 1.0753], "nice": false, "zero": false}, "axis": null},
                      "color": {"field": "kind", "type": "nominal", "scale": {"domain": ["dr", "bid", "dp"], "range": ["#e00000", "#ffffff", "#e000e0"]}, "legend": null}}},
        {"data": {"name": "pricetags"}, "mark": {"type": "text", "color": "#1a1a1a", "fontSize": 5, "align": "center", "baseline": "middle"},
         "encoding": {"x": {"datum": 116.9, "type": "quantitative", "scale": {"domain": [-0.31, 118.34], "nice": false, "zero": false}, "axis": null},
                      "y": {"field": "p", "type": "quantitative", "scale": {"domain": [1.04635, 1.0753], "nice": false, "zero": false}, "axis": null},
                      "text": {"field": "t"}}}
      ]
    },
    {
      "width": 1024,
      "height": 98,
      "resolve": {"axis": {"x": "independent", "y": "independent"}},
      "layer": [
        {"data": {"name": "macd"}, "mark": {"type": "bar", "size": 2, "opacity": 0},
         "encoding": {
           "x": {"field": "k", "type": "quantitative", "scale": {"domain": [-0.31, 118.34], "nice": false, "zero": false},
                 "axis": {"orient": "bottom", "title": null, "grid": false, "domain": false,
                          "values": [0, 4, 8, 12, 16, 20, 24, 28, 32, 36, 40, 44, 48, 52, 56, 60, 64, 68, 72, 76, 80, 84, 88, 92, 96],
                          "labelExpr": "(25 + floor((18 + datum.value) / 24)) + ' Apr ' + pad(toString((18 + datum.value) % 24), 2, '0', 'left') + ':00'",
                          "labelAlign": "left", "labelBaseline": "top", "labelFontSize": 5.5, "labelColor": "#c8c8c8",
                          "tickColor": "#b0b0b0", "tickSize": 2, "labelPadding": 1, "labelOverlap": false, "labelBound": false, "labelFlush": false}},
           "y": {"field": "macd", "type": "quantitative", "scale": {"domain": [-0.001176, 0.001258], "nice": false, "zero": false},
                 "axis": {"orient": "right", "offset": -25, "title": null, "grid": false, "values": [0.001258, 0, -0.001176],
                          "labelExpr": "datum.value == 0 ? '0.00' : format(datum.value, '.6f')",
                          "domainColor": "#b4b4b4", "tickColor": "#b4b4b4", "tickSize": 2,
                          "labelColor": "#dcdcdc", "labelFontSize": 4.8, "labelPadding": 0.5, "labelAlign": "left",
                          "labelFlush": true, "labelOverlap": false, "labelBound": false}},
           "y2": {"datum": 0}}},
        {"data": {"name": "vlines"}, "mark": {"type": "rule", "color": "#8c8c8c", "strokeDash": [1, 2], "strokeWidth": 1},
         "encoding": {"x": {"field": "k", "type": "quantitative", "scale": {"domain": [-0.31, 118.34], "nice": false, "zero": false}, "axis": null}}},
        {"data": {"values": [{}]}, "mark": {"type": "rect", "fill": "transparent", "stroke": "#a8a8a8", "strokeWidth": 1},
         "encoding": {"x": {"datum": -0.25, "type": "quantitative", "scale": {"domain": [-0.31, 118.34], "nice": false, "zero": false}, "axis": null}, "x2": {"datum": 115.45},
                      "y": {"datum": 0.00125, "type": "quantitative", "scale": {"domain": [-0.001176, 0.001258], "nice": false, "zero": false}, "axis": null},
                      "y2": {"datum": -0.001176}}},
        {"data": {"name": "macd"}, "mark": {"type": "bar", "size": 2, "color": "#4a8ad6"},
         "encoding": {
           "x": {"field": "k", "type": "quantitative", "scale": {"domain": [-0.31, 118.34], "nice": false, "zero": false}, "axis": null},
           "y": {"field": "macd", "type": "quantitative", "scale": {"domain": [-0.001176, 0.001258], "nice": false, "zero": false}, "axis": null},
           "y2": {"datum": 0}}},
        {"data": {"values": [{"t": "MACD (12,26,9) -0.000104 0.000579 0.000683"}]},
         "mark": {"type": "text", "color": "#c8c8c8", "fontSize": 5, "align": "left", "baseline": "middle"},
         "encoding": {"x": {"datum": 0.6, "type": "quantitative", "scale": {"domain": [-0.31, 118.34], "nice": false, "zero": false}, "axis": null},
                      "y": {"datum": 0.00103, "type": "quantitative", "scale": {"domain": [-0.001176, 0.001258], "nice": false, "zero": false}, "axis": null},
                      "text": {"field": "t"}}},
        {"data": {"name": "vlines"}, "mark": {"type": "point", "shape": "M-1,-0.17L1,-0.17L1,0.17L-1,0.17Z", "size": 1681, "filled": true, "color": "#8e8e8e", "opacity": 1},
         "encoding": {"x": {"field": "k", "type": "quantitative", "scale": {"domain": [-0.31, 118.34], "nice": false, "zero": false}, "axis": null},
                      "y": {"datum": -0.00131, "type": "quantitative", "scale": {"domain": [-0.001176, 0.001258], "nice": false, "zero": false}, "axis": null}}},
        {"data": {"name": "vlines"}, "mark": {"type": "text", "color": "#2a2a2a", "fontSize": 4.6, "align": "center", "baseline": "middle"},
         "encoding": {"x": {"field": "k", "type": "quantitative", "scale": {"domain": [-0.31, 118.34], "nice": false, "zero": false}, "axis": null},
                      "y": {"datum": -0.00131, "type": "quantitative", "scale": {"domain": [-0.001176, 0.001258], "nice": false, "zero": false}, "axis": null},
                      "text": {"field": "stamp"}}}
      ]
    }
  ]
}
